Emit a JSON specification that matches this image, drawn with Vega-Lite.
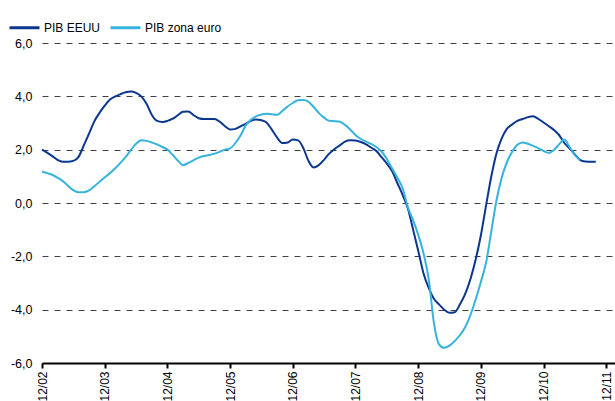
{
  "$schema": "https://vega.github.io/schema/vega-lite/v6.json",
  "width": 573,
  "height": 320,
  "autosize": {"type": "none"},
  "padding": {"left": 42, "top": 43, "right": 0, "bottom": 38},
  "background": "white",
  "config": {"view": {"stroke": null}, "font": "Liberation Sans"},
  "data": {"values": [
    {"fecha": "2002-12-01", "PIB EEUU": 2.00, "PIB zona euro": 1.18},
    {"fecha": "2003-01-01", "PIB EEUU": 1.88, "PIB zona euro": 1.12},
    {"fecha": "2003-02-01", "PIB EEUU": 1.75, "PIB zona euro": 1.05},
    {"fecha": "2003-03-01", "PIB EEUU": 1.62, "PIB zona euro": 0.95},
    {"fecha": "2003-04-01", "PIB EEUU": 1.55, "PIB zona euro": 0.82},
    {"fecha": "2003-05-01", "PIB EEUU": 1.55, "PIB zona euro": 0.65},
    {"fecha": "2003-06-01", "PIB EEUU": 1.58, "PIB zona euro": 0.48},
    {"fecha": "2003-07-01", "PIB EEUU": 1.72, "PIB zona euro": 0.40},
    {"fecha": "2003-08-01", "PIB EEUU": 2.15, "PIB zona euro": 0.40},
    {"fecha": "2003-09-01", "PIB EEUU": 2.60, "PIB zona euro": 0.47},
    {"fecha": "2003-10-01", "PIB EEUU": 3.05, "PIB zona euro": 0.62},
    {"fecha": "2003-11-01", "PIB EEUU": 3.38, "PIB zona euro": 0.80},
    {"fecha": "2003-12-01", "PIB EEUU": 3.65, "PIB zona euro": 0.96},
    {"fecha": "2004-01-01", "PIB EEUU": 3.88, "PIB zona euro": 1.12},
    {"fecha": "2004-02-01", "PIB EEUU": 4.00, "PIB zona euro": 1.30},
    {"fecha": "2004-03-01", "PIB EEUU": 4.08, "PIB zona euro": 1.50},
    {"fecha": "2004-04-01", "PIB EEUU": 4.15, "PIB zona euro": 1.72},
    {"fecha": "2004-05-01", "PIB EEUU": 4.18, "PIB zona euro": 1.98},
    {"fecha": "2004-06-01", "PIB EEUU": 4.13, "PIB zona euro": 2.22},
    {"fecha": "2004-07-01", "PIB EEUU": 4.00, "PIB zona euro": 2.35},
    {"fecha": "2004-08-01", "PIB EEUU": 3.72, "PIB zona euro": 2.33},
    {"fecha": "2004-09-01", "PIB EEUU": 3.30, "PIB zona euro": 2.27},
    {"fecha": "2004-10-01", "PIB EEUU": 3.08, "PIB zona euro": 2.20},
    {"fecha": "2004-11-01", "PIB EEUU": 3.04, "PIB zona euro": 2.10},
    {"fecha": "2004-12-01", "PIB EEUU": 3.08, "PIB zona euro": 2.00},
    {"fecha": "2005-01-01", "PIB EEUU": 3.16, "PIB zona euro": 1.80},
    {"fecha": "2005-02-01", "PIB EEUU": 3.30, "PIB zona euro": 1.58},
    {"fecha": "2005-03-01", "PIB EEUU": 3.42, "PIB zona euro": 1.42},
    {"fecha": "2005-04-01", "PIB EEUU": 3.43, "PIB zona euro": 1.50},
    {"fecha": "2005-05-01", "PIB EEUU": 3.30, "PIB zona euro": 1.60},
    {"fecha": "2005-06-01", "PIB EEUU": 3.18, "PIB zona euro": 1.70},
    {"fecha": "2005-07-01", "PIB EEUU": 3.15, "PIB zona euro": 1.76},
    {"fecha": "2005-08-01", "PIB EEUU": 3.15, "PIB zona euro": 1.80},
    {"fecha": "2005-09-01", "PIB EEUU": 3.15, "PIB zona euro": 1.85},
    {"fecha": "2005-10-01", "PIB EEUU": 3.05, "PIB zona euro": 1.92},
    {"fecha": "2005-11-01", "PIB EEUU": 2.88, "PIB zona euro": 2.00},
    {"fecha": "2005-12-01", "PIB EEUU": 2.76, "PIB zona euro": 2.05},
    {"fecha": "2006-01-01", "PIB EEUU": 2.78, "PIB zona euro": 2.25},
    {"fecha": "2006-02-01", "PIB EEUU": 2.88, "PIB zona euro": 2.55},
    {"fecha": "2006-03-01", "PIB EEUU": 2.97, "PIB zona euro": 2.90},
    {"fecha": "2006-04-01", "PIB EEUU": 3.08, "PIB zona euro": 3.12},
    {"fecha": "2006-05-01", "PIB EEUU": 3.13, "PIB zona euro": 3.25},
    {"fecha": "2006-06-01", "PIB EEUU": 3.10, "PIB zona euro": 3.32},
    {"fecha": "2006-07-01", "PIB EEUU": 3.02, "PIB zona euro": 3.35},
    {"fecha": "2006-08-01", "PIB EEUU": 2.75, "PIB zona euro": 3.33},
    {"fecha": "2006-09-01", "PIB EEUU": 2.45, "PIB zona euro": 3.31},
    {"fecha": "2006-10-01", "PIB EEUU": 2.25, "PIB zona euro": 3.45},
    {"fecha": "2006-11-01", "PIB EEUU": 2.27, "PIB zona euro": 3.62},
    {"fecha": "2006-12-01", "PIB EEUU": 2.38, "PIB zona euro": 3.75},
    {"fecha": "2007-01-01", "PIB EEUU": 2.35, "PIB zona euro": 3.85},
    {"fecha": "2007-02-01", "PIB EEUU": 2.05, "PIB zona euro": 3.86},
    {"fecha": "2007-03-01", "PIB EEUU": 1.60, "PIB zona euro": 3.80},
    {"fecha": "2007-04-01", "PIB EEUU": 1.33, "PIB zona euro": 3.60},
    {"fecha": "2007-05-01", "PIB EEUU": 1.42, "PIB zona euro": 3.38},
    {"fecha": "2007-06-01", "PIB EEUU": 1.62, "PIB zona euro": 3.20},
    {"fecha": "2007-07-01", "PIB EEUU": 1.85, "PIB zona euro": 3.08},
    {"fecha": "2007-08-01", "PIB EEUU": 2.02, "PIB zona euro": 3.07},
    {"fecha": "2007-09-01", "PIB EEUU": 2.16, "PIB zona euro": 3.05},
    {"fecha": "2007-10-01", "PIB EEUU": 2.30, "PIB zona euro": 2.93},
    {"fecha": "2007-11-01", "PIB EEUU": 2.35, "PIB zona euro": 2.75},
    {"fecha": "2007-12-01", "PIB EEUU": 2.34, "PIB zona euro": 2.55},
    {"fecha": "2008-01-01", "PIB EEUU": 2.29, "PIB zona euro": 2.40},
    {"fecha": "2008-02-01", "PIB EEUU": 2.20, "PIB zona euro": 2.30},
    {"fecha": "2008-03-01", "PIB EEUU": 2.08, "PIB zona euro": 2.22},
    {"fecha": "2008-04-01", "PIB EEUU": 1.95, "PIB zona euro": 2.10},
    {"fecha": "2008-05-01", "PIB EEUU": 1.72, "PIB zona euro": 1.93},
    {"fecha": "2008-06-01", "PIB EEUU": 1.48, "PIB zona euro": 1.65},
    {"fecha": "2008-07-01", "PIB EEUU": 1.20, "PIB zona euro": 1.30},
    {"fecha": "2008-08-01", "PIB EEUU": 0.75, "PIB zona euro": 0.95},
    {"fecha": "2008-09-01", "PIB EEUU": 0.30, "PIB zona euro": 0.55},
    {"fecha": "2008-10-01", "PIB EEUU": -0.20, "PIB zona euro": -0.15},
    {"fecha": "2008-11-01", "PIB EEUU": -1.00, "PIB zona euro": -0.65},
    {"fecha": "2008-12-01", "PIB EEUU": -1.80, "PIB zona euro": -1.20},
    {"fecha": "2009-01-01", "PIB EEUU": -2.65, "PIB zona euro": -1.90},
    {"fecha": "2009-02-01", "PIB EEUU": -3.20, "PIB zona euro": -2.90},
    {"fecha": "2009-03-01", "PIB EEUU": -3.58, "PIB zona euro": -4.45},
    {"fecha": "2009-04-01", "PIB EEUU": -3.80, "PIB zona euro": -5.30},
    {"fecha": "2009-05-01", "PIB EEUU": -4.00, "PIB zona euro": -5.43},
    {"fecha": "2009-06-01", "PIB EEUU": -4.12, "PIB zona euro": -5.35},
    {"fecha": "2009-07-01", "PIB EEUU": -4.10, "PIB zona euro": -5.18},
    {"fecha": "2009-08-01", "PIB EEUU": -3.80, "PIB zona euro": -4.95},
    {"fecha": "2009-09-01", "PIB EEUU": -3.40, "PIB zona euro": -4.65},
    {"fecha": "2009-10-01", "PIB EEUU": -2.85, "PIB zona euro": -4.20},
    {"fecha": "2009-11-01", "PIB EEUU": -2.10, "PIB zona euro": -3.60},
    {"fecha": "2009-12-01", "PIB EEUU": -1.20, "PIB zona euro": -2.95},
    {"fecha": "2010-01-01", "PIB EEUU": -0.05, "PIB zona euro": -2.20},
    {"fecha": "2010-02-01", "PIB EEUU": 1.05, "PIB zona euro": -1.00},
    {"fecha": "2010-03-01", "PIB EEUU": 1.85, "PIB zona euro": 0.08},
    {"fecha": "2010-04-01", "PIB EEUU": 2.42, "PIB zona euro": 0.95},
    {"fecha": "2010-05-01", "PIB EEUU": 2.78, "PIB zona euro": 1.52},
    {"fecha": "2010-06-01", "PIB EEUU": 2.95, "PIB zona euro": 1.92},
    {"fecha": "2010-07-01", "PIB EEUU": 3.08, "PIB zona euro": 2.18},
    {"fecha": "2010-08-01", "PIB EEUU": 3.15, "PIB zona euro": 2.27},
    {"fecha": "2010-09-01", "PIB EEUU": 3.22, "PIB zona euro": 2.22},
    {"fecha": "2010-10-01", "PIB EEUU": 3.25, "PIB zona euro": 2.14},
    {"fecha": "2010-11-01", "PIB EEUU": 3.15, "PIB zona euro": 2.05},
    {"fecha": "2010-12-01", "PIB EEUU": 3.02, "PIB zona euro": 1.95},
    {"fecha": "2011-01-01", "PIB EEUU": 2.88, "PIB zona euro": 1.88},
    {"fecha": "2011-02-01", "PIB EEUU": 2.73, "PIB zona euro": 2.00},
    {"fecha": "2011-03-01", "PIB EEUU": 2.55, "PIB zona euro": 2.20},
    {"fecha": "2011-04-01", "PIB EEUU": 2.25, "PIB zona euro": 2.38},
    {"fecha": "2011-05-01", "PIB EEUU": 2.05, "PIB zona euro": 2.10},
    {"fecha": "2011-06-01", "PIB EEUU": 1.82, "PIB zona euro": 1.80},
    {"fecha": "2011-07-01", "PIB EEUU": 1.62, "PIB zona euro": 1.60},
    {"fecha": "2011-08-01", "PIB EEUU": 1.56},
    {"fecha": "2011-09-01", "PIB EEUU": 1.55},
    {"fecha": "2011-10-01", "PIB EEUU": 1.55}
  ]},
  "transform": [
    {"fold": ["PIB EEUU", "PIB zona euro"], "as": ["serie", "valor"]},
    {"filter": "isValid(datum.valor)"}
  ],
  "mark": {"type": "line", "strokeWidth": 2, "interpolate": "monotone"},
  "encoding": {
    "x": {
      "field": "fecha",
      "type": "temporal",
      "scale": {"type": "utc", "domain": [{"year": 2002, "month": 12, "date": 1, "utc": true}, {"year": 2012, "month": 1, "date": 21, "utc": true}]},
      "axis": {
        "title": null,
        "values": [
          {"year": 2002, "month": 12, "date": 1, "utc": true},
          {"year": 2003, "month": 12, "date": 1, "utc": true},
          {"year": 2004, "month": 12, "date": 1, "utc": true},
          {"year": 2005, "month": 12, "date": 1, "utc": true},
          {"year": 2006, "month": 12, "date": 1, "utc": true},
          {"year": 2007, "month": 12, "date": 1, "utc": true},
          {"year": 2008, "month": 12, "date": 1, "utc": true},
          {"year": 2009, "month": 12, "date": 1, "utc": true},
          {"year": 2010, "month": 12, "date": 1, "utc": true},
          {"year": 2011, "month": 12, "date": 1, "utc": true}
        ],
        "labelExpr": "utcFormat(datum.value, '%m/%y')",
        "labelAngle": -90,
        "labelFontSize": 12,
        "labelColor": "#000000",
        "labelPadding": 3,
        "labelFlush": false,
        "labelOverlap": false,
        "domainColor": "#000000",
        "domainWidth": 2,
        "tickColor": "#000000",
        "tickWidth": 2,
        "tickSize": 5,
        "grid": false,
        "zindex": 1
      }
    },
    "y": {
      "field": "valor",
      "type": "quantitative",
      "scale": {"domain": [-6, 6], "nice": false, "zero": false},
      "axis": {
        "title": null,
        "values": [-6, -4, -2, 0, 2, 4, 6],
        "labelExpr": "(datum.value < 0 ? '-' : '') + replace(format(abs(datum.value), '.1f'), '.', ',')",
        "labelFontSize": 12.5,
        "labelColor": "#000000",
        "labelPadding": 10,
        "domain": false,
        "ticks": false,
        "grid": true,
        "gridColor": "#404040",
        "gridDash": [6, 6],
        "gridWidth": 1
      }
    },
    "color": {
      "field": "serie",
      "type": "nominal",
      "scale": {"domain": ["PIB EEUU", "PIB zona euro"], "range": ["#0a3690", "#35b2de"]},
      "legend": {
        "title": null,
        "orient": "none",
        "legendX": -34,
        "legendY": -32,
        "direction": "horizontal",
        "symbolType": "stroke",
        "symbolSize": 900,
        "symbolStrokeWidth": 3,
        "labelFontSize": 12,
        "labelColor": "#000000",
        "labelOffset": 3,
        "columnPadding": 3,
        "padding": 0
      }
    }
  }
}
